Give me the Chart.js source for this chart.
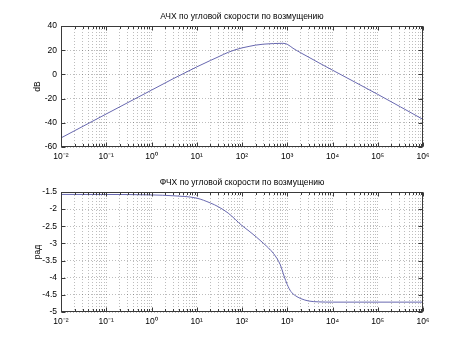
<!DOCTYPE html>
<html><head><meta charset="utf-8">
<script src="https://cdn.jsdelivr.net/npm/chart.js@4/dist/chart.umd.min.js"></script>
<style>
html,body{margin:0;padding:0;background:#fff;}
#wrap{position:relative;width:468px;height:351px;overflow:hidden;}
.box{position:absolute;left:0;width:468px;}
</style></head>
<body>
<div id="wrap">
  <div class="box" style="top:0;height:175px;"><canvas id="c1"></canvas></div>
  <div class="box" style="top:175px;height:176px;"><canvas id="c2"></canvas></div>
</div>
<script>
// ---- data ----
const topTitle = "АЧХ по угловой скорости по возмущению";
const bottomTitle = "ФЧХ по угловой скорости по возмущению";
const topYLabel = "dB";
const bottomYLabel = "рад";
const decadeExps = [-2, -1, 0, 1, 2, 3, 4, 5, 6];
const omegaMag = [0.01, 0.1, 1, 3, 10, 20, 30, 50, 70, 100, 150, 200, 300, 500, 800, 1000, 1340, 2000, 5000, 1e4, 1e5, 1e6];
const magDb = [-52.5, -32.7, -13, -3.6, 6.2, 11.5, 14.5, 18.3, 20.3, 21.9, 23.3, 24.2, 25, 25.5, 25.7, 24.9, 21.6, 17.8, 9.6, 3.5, -16.5, -37.2];
const omegaPh = [0.01, 0.1, 1, 3, 10, 20, 30, 50, 100, 150, 300, 500, 700, 850, 1000, 1200, 1500, 2000, 3000, 5000, 1e4, 1e6];
const phaseRad = [-1.571, -1.572, -1.585, -1.61, -1.68, -1.82, -1.93, -2.12, -2.48, -2.66, -3.0, -3.3, -3.62, -3.95, -4.2, -4.4, -4.52, -4.61, -4.68, -4.705, -4.712, -4.712];

const FONT = 'Arial, "Liberation Sans", sans-serif';
const FS = 8.5;
const SUP = {'-':'⁻','0':'⁰','1':'¹','2':'²','3':'³','4':'⁴','5':'⁵','6':'⁶','7':'⁷','8':'⁸','9':'⁹'};
const supStr = n => String(n).split('').map(c => SUP[c]).join('');
const LINE = '#6868b0';
const GRID = 'rgba(0,0,0,0.26)';

const framePlugin = {
  id: 'frameTicks',
  afterDraw(chart) {
    const {ctx, chartArea: a, scales} = chart;
    const L = Math.round(a.left) + 0.5, R = Math.round(a.right) - 0.5;
    const T = Math.round(a.top) + 0.5, B = Math.round(a.bottom) - 0.5;
    ctx.save();
    ctx.strokeStyle = '#3a3a3a';
    ctx.lineWidth = 1;
    ctx.beginPath();
    scales.x.ticks.forEach(t => {
      const px = Math.round(scales.x.getPixelForValue(t.value)) + 0.5;
      const len = t.major ? 4 : 2.5;
      ctx.moveTo(px, B); ctx.lineTo(px, B - len);
      ctx.moveTo(px, T); ctx.lineTo(px, T + len);
    });
    scales.y.ticks.forEach(t => {
      const py = Math.round(scales.y.getPixelForValue(t.value)) + 0.5;
      ctx.moveTo(L, py); ctx.lineTo(L + 4, py);
      ctx.moveTo(R, py); ctx.lineTo(R - 4, py);
    });
    ctx.stroke();
    ctx.strokeRect(L, T, R - L, B - T);
    ctx.restore();
    const o = chart.options.plugins.frameTicks;
    ctx.save();
    ctx.fillStyle = '#000';
    ctx.font = FS + 'px ' + FONT;
    ctx.textAlign = 'center';
    ctx.textBaseline = 'middle';
    ctx.fillText(o.text, (a.left + a.right) / 2, o.y);
    ctx.restore();
  }
};

function xTicks(scale) {
  const ticks = [];
  for (let i = 0; i < decadeExps.length; i++) {
    const e = decadeExps[i];
    if (i === decadeExps.length - 1) { ticks.push({value: Math.pow(10, e), major: true}); break; }
    for (let k = 1; k <= 9; k++) ticks.push({value: k * Math.pow(10, e), major: k === 1});
  }
  scale.ticks = ticks;
}

function makeChart(id, xs, ys, yMin, yMax, yStep, yLabel, title, titleY, padTop, plotH, canvasH) {
  const pts = xs.map((x, i) => ({x: x, y: ys[i]}));
  return new Chart(document.getElementById(id), {
    type: 'line',
    data: {datasets: [{data: pts, borderColor: LINE, borderWidth: 1, pointRadius: 0, cubicInterpolationMode: 'monotone', fill: false}]},
    options: {
      responsive: true, maintainAspectRatio: false, animation: false,
      layout: {padding: {top: padTop, right: 45, left: 0, bottom: 0}},
      plugins: {legend: {display: false}, tooltip: {enabled: false}, frameTicks: {text: title, y: titleY}},
      scales: {
        x: {
          type: 'logarithmic', min: 0.01, max: 1e6,
          afterBuildTicks: xTicks,
          afterFit: s => { s.height = canvasH - padTop - plotH; },
          grid: {color: GRID, drawTicks: false, lineWidth: 1},
          border: {display: false, dash: [1, 2]},
          ticks: {
            autoSkip: false, maxRotation: 0, padding: 5, color: '#000', font: {family: FONT, size: FS},
            callback: function(v, i, ticks) { const t = ticks[i]; if (!t.major) return ''; return '10' + supStr(Math.round(Math.log10(v))); }
          }
        },
        y: {
          min: yMin, max: yMax,
          afterFit: s => { s.width = 61; },
          grid: {color: GRID, drawTicks: false},
          border: {display: false, dash: [1, 2]},
          ticks: {stepSize: yStep, padding: 4, color: '#000', font: {family: FONT, size: FS},
            callback: v => String(parseFloat(Number(v).toFixed(2)))},
          title: {display: true, text: yLabel, color: '#000', font: {family: FONT, size: FS}, padding: {top: 33, bottom: 0}}
        }
      }
    },
    plugins: [framePlugin]
  });
}

makeChart('c1', omegaMag, magDb, -60, 40, 20, topYLabel, topTitle, 17, 26, 121, 175);
makeChart('c2', omegaPh, phaseRad, -5, -1.5, 0.5, bottomYLabel, bottomTitle, 8, 17, 120, 176);
</script>
</body></html>
